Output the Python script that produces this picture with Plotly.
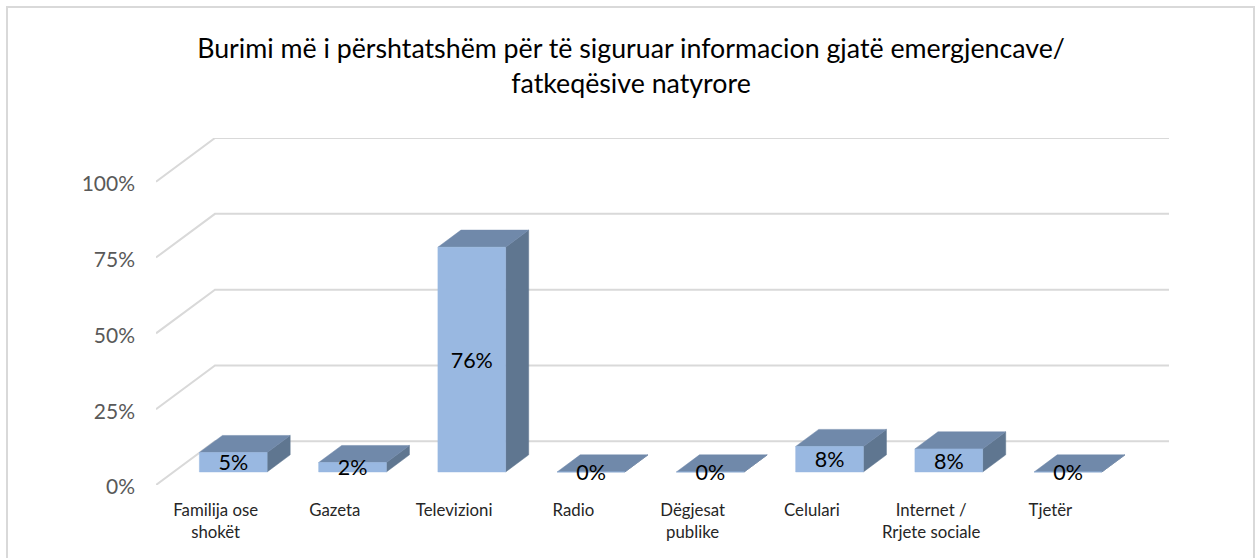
import plotly.graph_objects as go

categories = ["Familija ose<br>shokët", "Gazeta", "Televizioni", "Radio",
              "Dëgjesat<br>publike", "Celulari", "Internet /<br>Rrjete sociale", "Tjetër"]
bar_values = [6.4, 3.1, 74.1, 0, 0, 8.4, 7.6, 0]
bar_labels = ["5%", "2%", "76%", "0%", "0%", "8%", "8%", "0%"]
tick_values = [0, 25, 50, 75, 100]
tick_labels = ["0%", "25%", "50%", "75%", "100%"]
title_text = "Burimi më i përshtatshëm për të siguruar informacion gjatë emergjencave/<br>fatkeqësive natyrore"

FONT = "Lato"
W, H = 1255, 558
L, R, T, B = 156, 1169, 138, 485     # plot area in page pixels
DX = 59 / 119.3                      # oblique shift of full depth, x units
DY = 43.5 / 3.02                     # oblique shift of full depth, y units
HALF = 0.284
D0, D1 = 0.299, 0.69
LABEL_NUDGE = -0.9                   # y units, optical centring of data labels


def proj(x, v, d):
    return x + d * DX, v + d * DY


def poly(points):
    xs, ys = zip(*points)
    return list(xs) + [xs[0], None], list(ys) + [ys[0], None]


fig = go.Figure()

# wall grid
gx, gy = [], []
for v in tick_values:
    for px, py in (proj(-0.5, v, 0), proj(-0.5, v, 1), proj(7.5, v, 1)):
        gx.append(px)
        gy.append(py)
    gx.append(None)
    gy.append(None)
fig.add_trace(go.Scatter(x=gx, y=gy, mode="lines", line=dict(color="#d9d9d9", width=2), hoverinfo="skip"))

faces = {"front": ([], []), "top": ([], []), "side": ([], [])}
for i, v in enumerate(bar_values):
    a, b = i - HALF, i + HALF
    for name, pts in (
        ("front", [proj(a, 0, D0), proj(b, 0, D0), proj(b, v, D0), proj(a, v, D0)]),
        ("top", [proj(a, v, D0), proj(b, v, D0), proj(b, v, D1), proj(a, v, D1)]),
        ("side", [proj(b, 0, D0), proj(b, 0, D1), proj(b, v, D1), proj(b, v, D0)]),
    ):
        xs, ys = poly(pts)
        faces[name][0].extend(xs)
        faces[name][1].extend(ys)

colors = {"front": "#99b8e1", "top": "#7089aa", "side": "#5f7690"}
for name in ("side", "top", "front"):
    xs, ys = faces[name]
    fig.add_trace(go.Scatter(x=xs, y=ys, mode="lines", fill="toself", fillcolor=colors[name],
                             line=dict(color=colors[name], width=0.5), hoverinfo="skip"))

lx, ly = [], []
for i, v in enumerate(bar_values):
    px, py = proj(i, v / 2, D0)
    lx.append(px)
    ly.append(py + LABEL_NUDGE)
fig.add_trace(go.Scatter(x=lx, y=ly, mode="text", text=bar_labels, textposition="middle center",
                         textfont=dict(family=FONT, size=21.5, color="#000000"), hoverinfo="skip"))

fig.update_layout(
    width=W, height=H, autosize=False, showlegend=False,
    paper_bgcolor="white", plot_bgcolor="white",
    margin=dict(l=L, r=W - R, t=T, b=H - B, pad=0),
    font=dict(family=FONT),
    title=dict(text=title_text, x=631 / W, xanchor="center", y=1 - 58 / H, yanchor="middle",
               font=dict(family=FONT, size=26.75, color="#000000")),
    xaxis=dict(range=[-0.5, 7.5 + DX], tickmode="array", tickvals=list(range(8)), ticktext=categories,
               showgrid=False, zeroline=False, showline=False, ticks="", ticklabelstandoff=13,
               tickangle=0, tickfont=dict(family=FONT, size=16.8, color="#262626")),
    yaxis=dict(range=[0, 100 + DY], tickmode="array", tickvals=tick_values, ticktext=tick_labels,
               showgrid=False, zeroline=False, showline=False, ticks="", ticklabelstandoff=20,
               ticklabelshift=2, tickfont=dict(family=FONT, size=21, color="#595959")),
    shapes=[dict(type="rect", xref="paper", yref="paper",
                 x0=(7 - L) / (R - L), x1=(1254 - L) / (R - L),
                 y0=(B - 575) / (B - T), y1=(B - 7) / (B - T),
                 line=dict(color="#d9d9d9", width=2), fillcolor="rgba(0,0,0,0)", layer="below")],
)

fig.write_html("out.html", config={"displayModeBar": False},
               post_script="document.body.style.margin='0';document.body.style.overflow='hidden';")
